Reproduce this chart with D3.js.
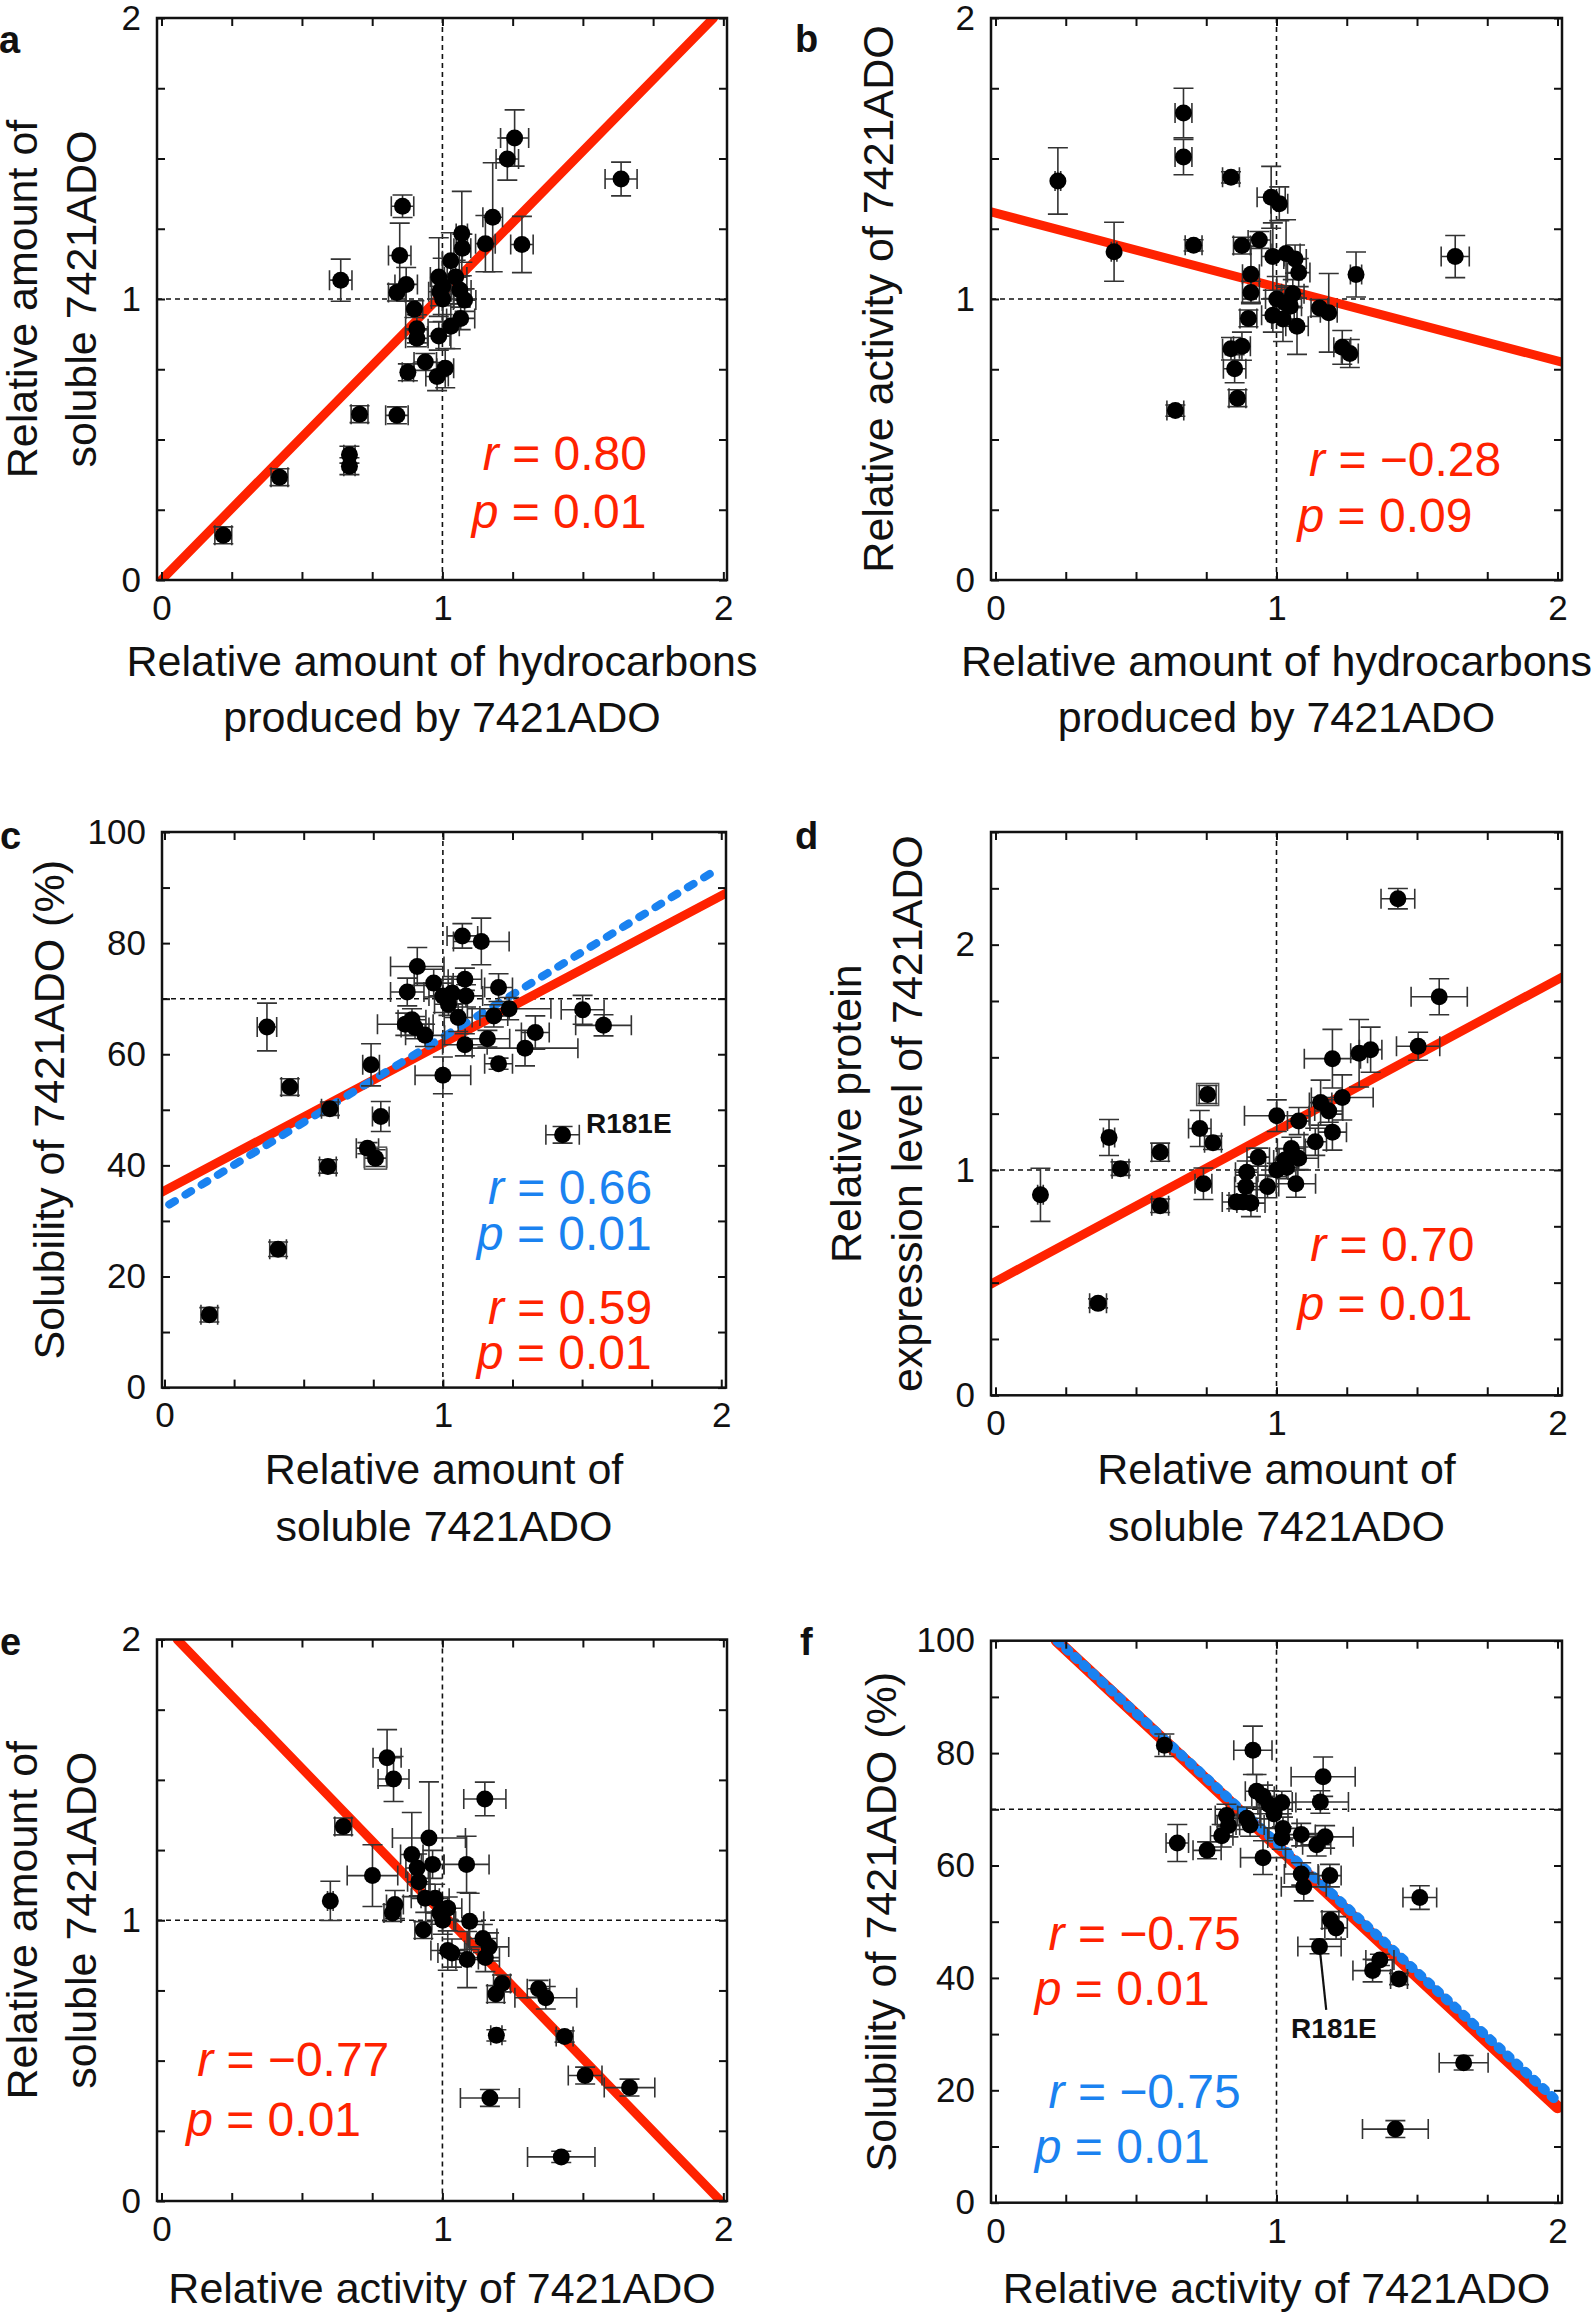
<!DOCTYPE html>
<html><head><meta charset="utf-8">
<script src="https://cdn.jsdelivr.net/npm/d3@7"></script>
<style>
body{margin:0;background:#fff;}
svg text{font-family:"Liberation Sans",Arial,Helvetica,sans-serif;}
</style>
</head><body>
<svg id="chart" width="1595" height="2314"></svg>
<script>
// ---------------- DATA ----------------
// tick labels
const xTickLabels = [0, 1, 2];
const ratioTickLabels = [0, 1, 2];
const pctTickLabels = [0, 20, 40, 60, 80, 100];

// a: hydrocarbons (x) vs soluble amount (y)
const aX = [0.22,0.42,0.669,0.669,0.705,0.838,0.877,0.939,0.981,1.01,0.987,0.909,0.909,0.90,0.838,0.871,0.848,0.858,0.638,0.987,1.001,1.001,1.03,1.047,1.069,1.071,1.062,1.079,1.065,1.03,1.153,1.179,1.231,1.257,1.283,1.636,0.991];
const aY = [0.159,0.366,0.446,0.405,0.590,0.586,0.739,0.776,0.724,0.754,0.868,0.894,0.860,0.964,1.023,1.052,1.155,1.330,1.067,1.078,1.045,1.0,1.136,1.078,1.233,1.181,1.032,0.996,0.931,0.903,1.197,1.291,1.498,1.573,1.194,1.427,1.026];
const aXerr = [0.03,0.03,0.02,0.02,0.03,0.04,0.02,0.04,0.04,0.03,0.04,0.04,0.04,0.03,0.03,0.04,0.04,0.04,0.04,0.03,0.04,0.04,0.03,0.04,0.02,0.03,0.04,0.04,0.05,0.03,0.035,0.035,0.04,0.05,0.04,0.057,0.04];
const aYerr = [0.03,0.03,0.03,0.03,0.03,0.03,0.03,0.03,0.05,0.07,0.05,0.05,0.03,0.03,0.03,0.06,0.115,0.04,0.075,0.14,0.1,0.08,0.1,0.06,0.15,0.05,0.05,0.04,0.04,0.08,0.1,0.194,0.075,0.1,0.1,0.06,0.05];
const aFit = [[0.0,0.0],[1.965,2.0]];

// b: hydrocarbons (x) vs activity (y)
const bX = [0.222,0.422,0.669,0.669,0.705,0.838,0.64,0.877,0.939,0.909,0.909,0.90,0.838,0.877,0.851,0.861,0.981,1.01,0.987,1.034,1.066,1.079,1.058,1.001,0.987,1.023,1.049,1.073,1.153,1.186,1.283,1.234,1.261,1.636,1.03];
const bY = [1.42,1.168,1.662,1.505,1.191,1.433,0.603,1.19,1.21,1.088,1.023,0.931,0.823,0.832,0.752,0.647,1.362,1.339,1.151,1.162,1.142,1.094,1.019,1.0,0.942,0.929,0.974,0.903,0.968,0.951,1.087,0.828,0.806,1.151,0.987];
const bXerr = [0.01,0.01,0.03,0.03,0.03,0.03,0.03,0.03,0.04,0.03,0.03,0.03,0.03,0.03,0.04,0.03,0.05,0.03,0.04,0.05,0.04,0.04,0.04,0.04,0.04,0.04,0.04,0.04,0.03,0.03,0.02,0.03,0.03,0.05,0.04];
const bYerr = [0.118,0.105,0.088,0.063,0.02,0.02,0.02,0.03,0.03,0.1,0.04,0.03,0.04,0.05,0.05,0.03,0.11,0.06,0.12,0.12,0.05,0.05,0.05,0.08,0.06,0.08,0.06,0.1,0.03,0.14,0.08,0.06,0.05,0.075,0.06];
const bFit = [[-0.016,1.31],[2.016,0.775]];

// c: soluble amount (x) vs solubility % (y)
const cX = [0.161,0.408,0.368,0.45,0.587,0.594,0.742,0.777,0.729,0.758,0.908,0.872,0.967,0.865,0.889,0.9,0.936,1.0,1.07,1.138,1.079,1.0,1.033,1.02,1.083,1.055,1.2,1.238,1.183,1.079,1.16,1.2,1.295,1.332,1.502,1.577,1.43];
const cY = [13.1,24.9,64.9,54.1,39.8,50.2,58.1,48.8,43.1,41.3,75.8,71.2,72.8,65.4,66.2,64.8,63.4,56.2,81.3,80.3,73.5,70.5,71.0,69.0,70.5,66.6,72.0,68.2,66.9,61.7,62.8,58.3,61.1,63.9,68.0,65.2,45.5];
const cXerr = [0.03,0.03,0.035,0.03,0.03,0.03,0.03,0.03,0.04,0.04,0.096,0.06,0.07,0.1,0.05,0.05,0.07,0.1,0.055,0.1,0.06,0.05,0.05,0.05,0.06,0.05,0.05,0.15,0.05,0.08,0.08,0.05,0.19,0.05,0.077,0.1,0.06];
const cYerr = [1.3,1.3,4.3,1.5,1.2,1.2,3.8,2.7,1.0,1.5,3.4,2.5,2.5,2,2,2,2,3.3,2.2,4.2,2,3,3,2,2,2.5,2.5,2,2,2,1.5,1,3.2,3,2.6,1.9,1.5];
const cFitAll = [[-0.009,35.2],[2.017,89.0]];
const cFitNoR181E = [[0.017,32.95],[1.996,93.6]];
const cBoxed = [9];

// d: soluble amount (x) vs protein expression (y)
const dX = [0.16,0.365,0.404,0.445,0.586,0.586,0.755,0.727,0.774,0.74,0.935,0.894,0.891,0.857,0.881,0.909,0.968,1.001,1.001,1.03,1.053,1.079,1.079,1.069,1.138,1.157,1.186,1.199,1.234,1.199,1.294,1.335,1.504,1.579,1.432,1.036];
const dY = [0.89,0.408,1.144,1.006,1.079,0.841,1.335,1.184,1.121,0.939,1.057,0.99,0.927,0.858,0.858,0.853,0.927,1.241,1.0,1.044,1.095,1.052,1.217,0.939,1.125,1.299,1.262,1.168,1.322,1.494,1.518,1.534,1.549,1.769,2.204,1.011];
const dXerr = [0.01,0.03,0.02,0.03,0.03,0.03,0.03,0.04,0.03,0.03,0.04,0.04,0.04,0.05,0.05,0.05,0.04,0.115,0.04,0.04,0.05,0.07,0.04,0.07,0.04,0.04,0.05,0.05,0.11,0.1,0.03,0.04,0.077,0.1,0.06,0.04];
const dYerr = [0.118,0.02,0.08,0.03,0.04,0.03,0.04,0.08,0.03,0.07,0.04,0.05,0.05,0.03,0.03,0.06,0.05,0.07,0.03,0.05,0.05,0.05,0.06,0.06,0.06,0.1,0.05,0.08,0.1,0.13,0.15,0.1,0.062,0.08,0.045,0.05];
const dFit = [[-0.016,0.494],[2.016,1.856]];
const dBoxed = [6];

// e: activity (x) vs soluble amount (y)
const eX = [0.601,0.647,0.751,0.803,0.826,0.831,0.822,0.891,0.952,0.91,0.965,0.916,0.939,0.974,1.019,0.991,1.001,0.932,1.086,1.151,1.097,1.019,1.034,1.088,1.144,1.166,1.153,1.212,1.19,1.342,1.368,1.192,1.435,1.508,1.666,1.169,1.423];
const eY = [1.069,1.334,1.159,1.579,1.503,1.056,1.026,1.234,1.293,1.186,1.199,1.137,1.078,1.078,1.043,1.026,1.0,0.965,1.199,1.432,0.996,0.892,0.883,0.86,0.935,0.905,0.867,0.775,0.737,0.756,0.724,0.59,0.586,0.447,0.404,0.367,0.157];
const eXerr = [0.01,0.03,0.09,0.05,0.055,0.03,0.03,0.04,0.13,0.04,0.04,0.04,0.05,0.05,0.05,0.05,0.04,0.03,0.08,0.075,0.05,0.06,0.05,0.04,0.05,0.07,0.05,0.03,0.03,0.04,0.11,0.02,0.03,0.06,0.09,0.105,0.12];
const eYerr = [0.07,0.03,0.11,0.1,0.08,0.05,0.03,0.15,0.2,0.05,0.05,0.05,0.05,0.05,0.04,0.04,0.05,0.03,0.1,0.06,0.1,0.07,0.05,0.1,0.05,0.05,0.05,0.03,0.03,0.03,0.04,0.02,0.02,0.03,0.03,0.03,0.02];
const eFit = [[0.056,2.0],[1.99,0.0]];

// f: activity (x) vs solubility % (y)
const fX = [0.601,0.916,1.166,1.156,0.929,0.952,0.974,0.991,1.019,0.822,0.829,0.805,0.894,0.906,0.647,0.753,0.952,1.023,1.019,1.088,1.173,1.143,1.088,1.097,1.19,1.51,1.192,1.212,1.153,1.368,1.342,1.436,1.666,1.423];
const fY = [81.4,80.5,75.8,71.3,73.2,72.3,70.8,69.2,71.2,68.9,67.1,65.3,68.4,67.2,64.0,62.7,61.4,66.6,64.9,65.5,65.1,63.7,58.5,56.2,58.2,54.3,50.3,48.9,45.6,43.2,41.3,39.8,24.9,13.1];
const fXerr = [0.02,0.068,0.114,0.1,0.04,0.04,0.04,0.05,0.05,0.04,0.04,0.04,0.05,0.05,0.04,0.05,0.08,0.05,0.05,0.05,0.1,0.05,0.06,0.08,0.04,0.06,0.03,0.04,0.077,0.05,0.07,0.03,0.087,0.117];
const fYerr = [2,4.3,3.5,2,3,2,2.5,2.5,2,2,2,2,2,2,3.3,1.5,3,2,2,2,2,2,2,2.5,2,2.1,1.5,2,1.3,1,2,1,1.3,1.5];
const fFitAll = [[0.218,100],[2.0,17.0]];
const fFitNoR181E = [[0.22,100],[2.0,18.0]];

// ---------------- STYLE / LAYOUT ----------------
const RED = '#ff2200', BLUE = '#1a82f0', INK = '#111';
const svg = d3.select('#chart');
svg.append('rect').attr('width', 1595).attr('height', 2314).attr('fill', '#fff');

const panels = [
  {id:'a', letter:[-1,53], box:[157,727,18,580], xd:[-0.016,2.013], yd:[0,2], yStep:0.25, yLabels:ratioTickLabels, ref:[1,1],
   X:aX, Y:aY, XE:aXerr, YE:aYerr, boxed:[],
   fits:[{pts:aFit, color:RED, w:9}],
   xTitle:[['Relative amount of hydrocarbons',676],['produced by 7421ADO',732]],
   yTitle:[['Relative amount of',37],['soluble 7421ADO',96]],
   stats:[{v:'r', s:'0.80', x:1.144, y:0.392, c:RED},{v:'p', s:'0.01', x:1.104, y:0.185, c:RED}], ann:[]},
  {id:'b', letter:[795,52], box:[991,1562,18,580], xd:[-0.016,2.016], yd:[0,2], yStep:0.25, yLabels:ratioTickLabels, ref:[1,1],
   X:bX, Y:bY, XE:bXerr, YE:bYerr, boxed:[],
   fits:[{pts:bFit, color:RED, w:9}],
   xTitle:[['Relative amount of hydrocarbons',676],['produced by 7421ADO',732]],
   yTitle:[['Relative activity of 7421ADO',893]],
   stats:[{v:'r', s:'\u22120.28', x:1.116, y:0.369, c:RED},{v:'p', s:'0.09', x:1.075, y:0.172, c:RED}], ann:[]},
  {id:'c', letter:[0,849], box:[162,726,832,1387.6], xd:[-0.009,2.017], yd:[0,100], yStep:10, yLabels:pctTickLabels, ref:[1,70],
   X:cX, Y:cY, XE:cXerr, YE:cYerr, boxed:cBoxed,
   fits:[{pts:cFitAll, color:RED, w:9},{pts:cFitNoR181E, color:BLUE, w:8, dash:'6.6,12.4'}],
   xTitle:[['Relative amount of',1484],['soluble 7421ADO',1541]],
   yTitle:[['Solubility of 7421ADO (%)',64]],
   stats:[{v:'r', s:'0.66', x:1.162, y:33.0, c:BLUE},{v:'p', s:'0.01', x:1.122, y:24.8, c:BLUE},
          {v:'r', s:'0.59', x:1.162, y:11.4, c:RED},{v:'p', s:'0.01', x:1.122, y:3.4, c:RED}],
   ann:[{text:'R181E', x:1.514, y:45.9}]},
  {id:'d', letter:[795,849], box:[991,1562,832,1395.3], xd:[-0.016,2.016], yd:[0,2.5], yStep:0.25, yLabels:ratioTickLabels, ref:[1,1],
   X:dX, Y:dY, XE:dXerr, YE:dYerr, boxed:dBoxed,
   fits:[{pts:dFit, color:RED, w:9}],
   xTitle:[['Relative amount of',1484],['soluble 7421ADO',1541]],
   yTitle:[['Relative protein',861],['expression level of 7421ADO',922]],
   stats:[{v:'r', s:'0.70', x:1.12, y:0.594, c:RED},{v:'p', s:'0.01', x:1.075, y:0.332, c:RED}], ann:[]},
  {id:'e', letter:[0,1655], box:[157,727,1639.5,2201], xd:[-0.016,2.013], yd:[0,2], yStep:0.25, yLabels:ratioTickLabels, ref:[1,1],
   X:eX, Y:eY, XE:eXerr, YE:eYerr, boxed:[],
   fits:[{pts:eFit, color:RED, w:9}],
   xTitle:[['Relative activity of 7421ADO',2303]],
   yTitle:[['Relative amount of',37],['soluble 7421ADO',96]],
   stats:[{v:'r', s:'\u22120.77', x:0.127, y:0.445, c:RED},{v:'p', s:'0.01', x:0.088, y:0.233, c:RED}], ann:[]},
  {id:'f', letter:[800,1655], box:[991,1562,1640.7,2202.7], xd:[-0.016,2.016], yd:[0,100], yStep:10, yLabels:pctTickLabels, ref:[1,70],
   X:fX, Y:fY, XE:fXerr, YE:fYerr, boxed:[],
   fits:[{pts:fFitAll, color:RED, w:12},{pts:fFitNoR181E, color:BLUE, w:10, dash:'3,9'}],
   xTitle:[['Relative activity of 7421ADO',2303]],
   yTitle:[['Solubility of 7421ADO (%)',896]],
   stats:[{v:'r', s:'\u22120.75', x:0.189, y:45.0, c:RED},{v:'p', s:'0.01', x:0.14, y:35.2, c:RED},
          {v:'r', s:'\u22120.75', x:0.189, y:16.8, c:BLUE},{v:'p', s:'0.01', x:0.14, y:7.1, c:BLUE}],
   ann:[{text:'R181E', x:1.052, y:29.3, from:[1.153,45.6], to:[1.177,34.3]}]}
];

const defs = svg.append('defs');

panels.forEach(p => {
  const [L, R, T, B] = p.box;
  const x = d3.scaleLinear().domain(p.xd).range([L, R]);
  const y = d3.scaleLinear().domain(p.yd).range([B, T]);
  const g = svg.append('g').attr('class', 'panel-' + p.id);

  defs.append('clipPath').attr('id', 'clip-' + p.id)
    .append('rect').attr('x', L).attr('y', T).attr('width', R - L).attr('height', B - T);
  const inner = g.append('g').attr('clip-path', `url(#clip-${p.id})`);

  // reference dashed lines
  inner.append('line').attr('x1', x(p.ref[0])).attr('x2', x(p.ref[0])).attr('y1', T).attr('y2', B)
    .attr('stroke', INK).attr('stroke-width', 1.6).attr('stroke-dasharray', '5,4');
  inner.append('line').attr('x1', L).attr('x2', R).attr('y1', y(p.ref[1])).attr('y2', y(p.ref[1]))
    .attr('stroke', INK).attr('stroke-width', 1.6).attr('stroke-dasharray', '5,4');

  // regression lines
  const line = d3.line().x(d => x(d[0])).y(d => y(d[1]));
  p.fits.forEach(f => {
    inner.append('path').attr('d', line(f.pts)).attr('fill', 'none')
      .attr('stroke', f.color).attr('stroke-width', f.w).attr('stroke-linecap', 'round')
      .attr('stroke-dasharray', f.dash || null);
  });

  // annotations (leader lines + labels)
  p.ann.forEach(a => {
    if (a.from) {
      g.append('line').attr('x1', x(a.from[0])).attr('y1', y(a.from[1]))
        .attr('x2', x(a.to[0])).attr('y2', y(a.to[1])).attr('stroke', INK).attr('stroke-width', 2.2);
    }
    g.append('text').attr('x', x(a.x)).attr('y', y(a.y)).attr('font-size', 28).attr('font-weight', 'bold')
      .attr('fill', INK).text(a.text);
  });

  // error bars
  const pts = p.X.map((v, i) => ({x: v, y: p.Y[i], xe: p.XE[i], ye: p.YE[i], i}));
  const cap = 10;
  const eb = g.append('g').attr('stroke', '#333').attr('stroke-width', 1.6).attr('fill', 'none');
  pts.forEach(d => {
    const cx = x(d.x), cy = y(d.y);
    const x0 = x(d.x - d.xe), x1 = x(d.x + d.xe);
    const y0 = y(d.y - d.ye), y1 = y(d.y + d.ye);
    eb.append('path').attr('d',
      `M${x0},${cy}H${x1}M${x0},${cy - cap}V${cy + cap}M${x1},${cy - cap}V${cy + cap}` +
      `M${cx},${y0}V${y1}M${cx - cap},${y0}H${cx + cap}M${cx - cap},${y1}H${cx + cap}`);
  });
  // boxed highlights
  p.boxed.forEach(i => {
    g.append('rect').attr('x', x(p.X[i]) - 11).attr('y', y(p.Y[i]) - 11).attr('width', 22).attr('height', 22)
      .attr('fill', 'none').attr('stroke', '#555').attr('stroke-width', 1.5);
  });
  // points
  g.append('g').selectAll('circle').data(pts).join('circle')
    .attr('cx', d => x(d.x)).attr('cy', d => y(d.y)).attr('r', 8.5).attr('fill', '#000');

  // axes (inward ticks on all four sides)
  const xt = d3.range(0, 2.0001, 0.25);
  const yt = d3.range(p.yd[0], p.yd[1] + 1e-9, p.yStep);
  const fmtX = v => { const k = xTickLabels.find(t => Math.abs(t - v) < 1e-6); return k === undefined ? '' : String(k); };
  const fmtY = v => { const k = p.yLabels.find(t => Math.abs(t - v) < 1e-6); return k === undefined ? '' : String(k); };
  const TK = 8;
  const axB = g.append('g').attr('transform', `translate(0,${B})`)
    .call(d3.axisBottom(x).tickValues(xt).tickSize(-TK).tickSizeOuter(0).tickPadding(15).tickFormat(fmtX));
  const axT = g.append('g').attr('transform', `translate(0,${T})`)
    .call(d3.axisTop(x).tickValues(xt).tickSize(-TK).tickSizeOuter(0).tickFormat(''));
  const axL = g.append('g').attr('transform', `translate(${L},0)`)
    .call(d3.axisLeft(y).tickValues(yt).tickSize(-TK).tickSizeOuter(0).tickPadding(16).tickFormat(fmtY));
  const axR = g.append('g').attr('transform', `translate(${R},0)`)
    .call(d3.axisRight(y).tickValues(yt).tickSize(-TK).tickSizeOuter(0).tickFormat(''));
  [axB, axT, axL, axR].forEach(ax => {
    ax.select('.domain').remove();
    ax.attr('font-family', '"Liberation Sans",Arial,sans-serif').attr('font-size', 35);
    ax.selectAll('line').attr('stroke', INK).attr('stroke-width', 2);
    ax.selectAll('text').attr('fill', INK);
  });

  // frame
  g.append('rect').attr('x', L).attr('y', T).attr('width', R - L).attr('height', B - T)
    .attr('fill', 'none').attr('stroke', INK).attr('stroke-width', 2.5);

  // statistics text
  p.stats.forEach(s => {
    const t = g.append('text').attr('x', x(s.x)).attr('y', y(s.y)).attr('font-size', 48).attr('fill', s.c);
    t.append('tspan').attr('font-style', 'italic').text(s.v);
    t.append('tspan').text(' = ' + s.s);
  });

  // axis titles
  const cxm = (L + R) / 2, cym = (T + B) / 2;
  p.xTitle.forEach(([txt, by]) => {
    g.append('text').attr('x', cxm).attr('y', by).attr('text-anchor', 'middle')
      .attr('font-size', 43).attr('fill', INK).text(txt);
  });
  p.yTitle.forEach(([txt, bx]) => {
    g.append('text').attr('transform', `translate(${bx},${cym}) rotate(-90)`).attr('text-anchor', 'middle')
      .attr('font-size', 43).attr('fill', INK).text(txt);
  });

  // panel letter
  g.append('text').attr('x', p.letter[0]).attr('y', p.letter[1]).attr('font-size', 38)
    .attr('font-weight', 'bold').attr('fill', INK).text(p.id);
});
</script>
</body></html>
